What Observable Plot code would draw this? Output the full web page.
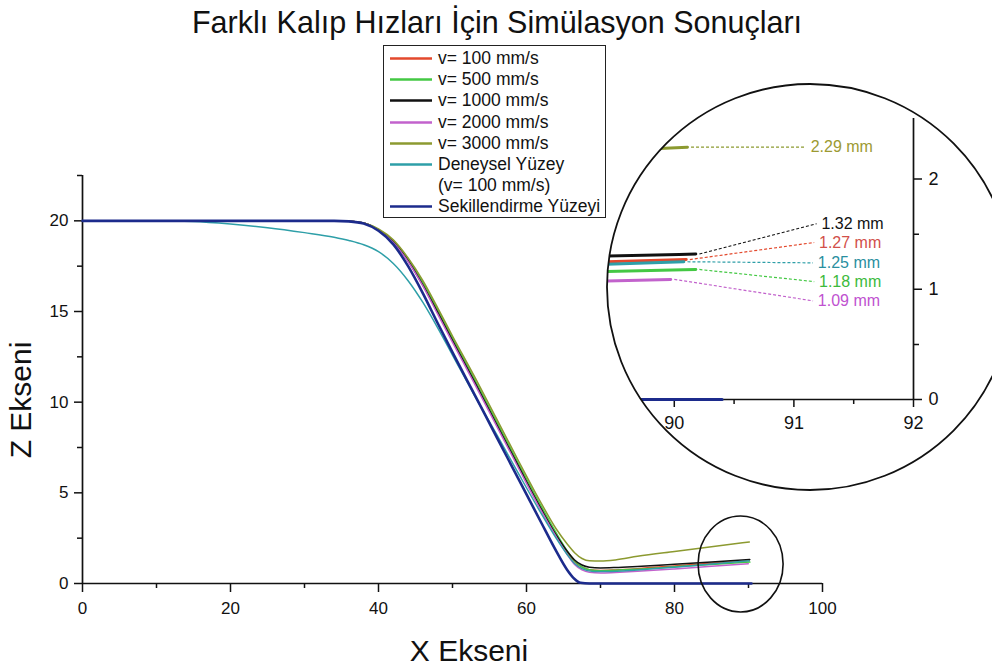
<!DOCTYPE html>
<html>
<head>
<meta charset="utf-8">
<script src="https://cdn.jsdelivr.net/npm/d3@7"></script>
<script src="https://cdn.jsdelivr.net/npm/@observablehq/plot@0.6"></script>
<style>
  html, body { margin: 0; padding: 0; background: #fff; overflow: hidden; }
  #chart { position: relative; width: 992px; height: 670px; font-family: "Liberation Sans", Arial, sans-serif; color: #111; }
  #chart > svg { position: absolute; }
  .title { position: absolute; left: 0; top: 5px; width: 994px; text-align: center; font-size: 30.5px; line-height: 34px; }
  .xlab { position: absolute; left: 369px; top: 634px; width: 200px; text-align: center; font-size: 30px; line-height: 34px; }
  .ylab { position: absolute; left: 21px; top: 400px; font-size: 30px; line-height: 34px; white-space: nowrap; transform: translate(-50%, -50%) rotate(-90deg); }
  .legend { position: absolute; left: 383px; top: 45px; width: 221px; height: 169px; border: 1.5px solid #222; background: #fff; box-sizing: content-box; padding-top: 2px; }
  .legend .row { display: flex; align-items: center; height: 21.2px; font-size: 17.5px; white-space: nowrap; }
  .legend svg { width: 54px; height: 21px; flex: none; }
</style>
</head>
<body>
<div id="chart"></div>
<script>
// Profile series: forming speed runs, the measured surface and the die surface
const seriesNames = ["v= 100 mm/s", "v= 500 mm/s", "v= 1000 mm/s", "v= 2000 mm/s", "v= 3000 mm/s", "Deneysel Yüzey", "Sekillendirme Yüzeyi"];
const seriesColors = ["#e3492d", "#44c844", "#111111", "#c262cc", "#8c9a30", "#2e9fa8", "#1c2b8c"];
const labelColors = ["#d2504a", "#3cba3c", "#111111", "#c052d0", "#9c9a32", "#2a8f9f"];

// simulated profiles, x (mm) and z (mm)
const xSim100 = [0, 34, 36, 38, 40, 42, 44, 46, 48, 50, 53, 56, 59, 62, 64, 65.5, 66.5, 67.5, 68.5, 70, 72, 75, 80, 85, 90.1];
const zSim100 = [20, 20, 19.98, 19.88, 19.5, 18.85, 17.8, 16.45, 14.95, 13.4, 11.1, 8.75, 6.4, 4.1, 2.68, 1.72, 1.2, 0.9, 0.76, 0.72, 0.75, 0.82, 0.97, 1.12, 1.27];

const xSim500 = [0, 34, 36, 38, 40, 42, 44, 46, 48, 50, 53, 56, 59, 62, 64, 65.5, 66.5, 67.5, 68.5, 70, 72, 75, 80, 85, 90.18];
const zSim500 = [20, 20, 19.98, 19.88, 19.52, 18.9, 17.9, 16.6, 15.1, 13.55, 11.25, 8.9, 6.55, 4.25, 2.8, 1.8, 1.25, 0.92, 0.76, 0.71, 0.73, 0.79, 0.92, 1.05, 1.18];

const xSim1000 = [0, 34, 36, 38, 40, 42, 44, 46, 48, 50, 53, 56, 59, 62, 64, 65.5, 66.5, 67.5, 68.5, 70, 72, 75, 80, 85, 90.18];
const zSim1000 = [20, 20, 19.98, 19.88, 19.5, 18.85, 17.8, 16.45, 14.95, 13.4, 11.1, 8.75, 6.4, 4.1, 2.68, 1.78, 1.3, 1.02, 0.9, 0.86, 0.88, 0.94, 1.06, 1.19, 1.32];

const xSim2000 = [0, 34, 36, 38, 40, 42, 44, 46, 48, 50, 53, 56, 59, 62, 64, 65.5, 66.5, 67.5, 68.5, 70, 72, 75, 80, 85, 89.97];
const zSim2000 = [20, 20, 19.98, 19.88, 19.48, 18.8, 17.75, 16.4, 14.85, 13.3, 11.0, 8.65, 6.3, 4.0, 2.58, 1.6, 1.05, 0.75, 0.62, 0.58, 0.61, 0.67, 0.8, 0.95, 1.09];

const xSim3000 = [0, 34, 36, 38, 40, 42, 44, 46, 48, 50, 53, 56, 59, 62, 64, 65.5, 66.5, 67.5, 68.5, 70, 72, 75, 80, 85, 90.11];
const zSim3000 = [20, 20, 19.98, 19.88, 19.55, 18.95, 17.95, 16.7, 15.2, 13.65, 11.4, 9.05, 6.7, 4.42, 3.02, 2.18, 1.7, 1.38, 1.25, 1.24, 1.3, 1.5, 1.77, 2.03, 2.29];

// measured surface (v = 100 mm/s)
const xExp = [0, 10, 15, 20, 25, 30, 34, 36, 38, 40, 42, 44, 46, 48, 50, 53, 56, 59, 62, 64, 65.5, 66.5, 67.5, 69, 71, 75, 80, 85, 90.08];
const zExp = [20, 20, 19.96, 19.82, 19.62, 19.35, 19.1, 18.92, 18.68, 18.3, 17.65, 16.7, 15.5, 14.1, 12.6, 10.35, 8.2, 6.0, 3.85, 2.5, 1.6, 1.1, 0.82, 0.66, 0.66, 0.75, 0.9, 1.07, 1.25];

// die (forming) surface
const xDie = [0, 34, 36, 38, 40, 42, 44, 46, 48, 50, 53, 56, 59, 62, 64, 65.5, 66.5, 67.3, 68.5, 90.4];
const zDie = [20, 20, 19.97, 19.85, 19.45, 18.7, 17.5, 16.0, 14.35, 12.75, 10.4, 8.05, 5.7, 3.35, 1.8, 0.75, 0.25, 0.04, 0, 0];

// axis ticks
const xMajorTicks = [0, 20, 40, 60, 80, 100];
const xMinorTicks = [10, 30, 50, 70, 90];
const yMajorTicks = [0, 5, 10, 15, 20];
const yMinorTicks = [2.5, 7.5, 12.5, 17.5, 22.5];
const insetXMajor = [90, 91, 92];
const insetXMinor = [90.5, 91.5];
const insetYMajor = [0, 1, 2];
const insetYMinor = [0.5, 1.5];

const xs = [xSim100, xSim500, xSim1000, xSim2000, xSim3000, xExp, xDie];
const zs = [zSim100, zSim500, zSim1000, zSim2000, zSim3000, zExp, zDie];
const widths = [1.5, 1.5, 1.5, 1.5, 1.5, 1.5, 2.6];

const rows = xs.map((xa, i) => xa.map((x, j) => ({series: seriesNames[i], x, z: zs[i][j]})));

const font = "'Liberation Sans', Arial, sans-serif";
const intFmt = d3.format("d");
const chart = document.getElementById("chart");

// ---------- main profile chart ----------
const ellipseMark = (index, {x, y}) => {
  const g = d3.create("svg:g");
  g.append("ellipse")
    .attr("cx", x(89.0)).attr("cy", y(1.05))
    .attr("rx", 42.5).attr("ry", 48)
    .attr("fill", "none").attr("stroke", "#111").attr("stroke-width", 1.6);
  return g.node();
};

const main = Plot.plot({
  width: 992, height: 670,
  marginLeft: 82, marginRight: 170, marginTop: 175, marginBottom: 87,
  x: {domain: [0, 100]},
  y: {domain: [0, 22.5]},
  style: {fontFamily: font, fontSize: "17px", color: "#111", background: "white"},
  marks: [
    Plot.axisX(xMajorTicks, {tickSize: 9, tickPadding: 9, label: null, strokeWidth: 1.5, fontSize: 17, tickFormat: intFmt}),
    Plot.axisX(xMinorTicks, {tickSize: 5, tickFormat: () => "", label: null, strokeWidth: 1.5}),
    Plot.axisY(yMajorTicks, {tickSize: 8, tickPadding: 6, label: null, strokeWidth: 1.5, fontSize: 17, tickFormat: intFmt}),
    Plot.axisY(yMinorTicks, {tickSize: 5, tickFormat: () => "", label: null, strokeWidth: 1.5}),
    Plot.ruleY([0], {stroke: "#111", strokeWidth: 1.7}),
    Plot.ruleX([0], {stroke: "#111", strokeWidth: 1.7}),
    ...rows.map((r, i) => Plot.line(r, {x: "x", y: "z", stroke: seriesColors[i], strokeWidth: widths[i], curve: "monotone-x"})),
    ellipseMark
  ]
});
chart.appendChild(main);
main.style.left = "0px";
main.style.top = "0px";

// ---------- magnified end region ----------
const endIdx = [0, 1, 2, 3, 4, 5];
const labelZ = [1.425, 1.07, 1.595, 0.895, 2.29, 1.24];
const leaderEndX = [91.17, 91.17, 91.19, 91.16, 91.1, 91.16];
const leaders = endIdx.map(i => {
  const xa = xs[i], za = zs[i];
  const v = za[za.length - 1];
  return {
    x1: xa[xa.length - 1] + 0.03, y1: v,
    x2: leaderEndX[i], y2: labelZ[i],
    lx: leaderEndX[i] + 0.04,
    text: `${v.toFixed(2)} mm`,
    color: labelColors[i], lineColor: seriesColors[i]
  };
});

const insetRows = rows.map(r => r.filter(d => d.x >= 65));
const inset = Plot.plot({
  width: 392, height: 420,
  marginLeft: 8, marginRight: 79, marginTop: 38, marginBottom: 101,
  x: {domain: [89.45, 92]},
  y: {domain: [0, 2.55]},
  style: {fontFamily: font, fontSize: "18px", color: "#111", background: "none", overflow: "visible"},
  marks: [
    Plot.axisX(insetXMajor, {tickSize: 8, tickPadding: 9, label: null, strokeWidth: 1.5, fontSize: 18, tickFormat: intFmt}),
    Plot.axisX(insetXMinor, {tickSize: 5, tickFormat: () => "", label: null, strokeWidth: 1.5}),
    Plot.axisY(insetYMajor, {anchor: "right", tickSize: 8, tickPadding: 7, label: null, strokeWidth: 1.5, fontSize: 18, tickFormat: intFmt}),
    Plot.axisY(insetYMinor, {anchor: "right", tickSize: 5, tickFormat: () => "", label: null, strokeWidth: 1.5}),
    Plot.ruleY([0], {stroke: "#111", strokeWidth: 1.7}),
    Plot.ruleX([92], {stroke: "#111", strokeWidth: 1.7}),
    ...insetRows.map((r, i) => Plot.line(r, {x: "x", y: "z", stroke: seriesColors[i], strokeWidth: 3, curve: "monotone-x"})),
    Plot.link(leaders, {x1: "x1", y1: "y1", x2: "x2", y2: "y2", stroke: "lineColor", strokeWidth: 1.2, strokeDasharray: "3,2"}),
    Plot.text(leaders, {x: "lx", y: "y2", text: "text", fill: "color", textAnchor: "start", fontSize: 16})
  ]
});
chart.appendChild(inset);
inset.style.left = "600px";
inset.style.top = "80px";

// clip the magnified view to its lens
{
  const svg = d3.select(inset);
  const cx = 210, cy = 207, r = 203;
  const id = "lens-clip";
  svg.insert("defs", ":first-child").append("clipPath").attr("id", id)
    .append("circle").attr("cx", cx).attr("cy", cy).attr("r", r);
  const content = svg.selectAll(":scope > g").nodes();
  svg.append("circle").attr("cx", cx).attr("cy", cy).attr("r", r).attr("fill", "#fff");
  const holder = svg.append("g").attr("clip-path", `url(#${id})`);
  content.forEach(n => holder.node().appendChild(n));
  svg.append("circle").attr("cx", cx).attr("cy", cy).attr("r", r)
    .attr("fill", "none").attr("stroke", "#111").attr("stroke-width", 1.8);
}

// ---------- texts ----------
const title = document.createElement("div");
title.className = "title";
title.textContent = "Farklı Kalıp Hızları İçin Simülasyon Sonuçları";
chart.appendChild(title);

const xl = document.createElement("div");
xl.className = "xlab";
xl.textContent = "X Ekseni";
chart.appendChild(xl);

const yl = document.createElement("div");
yl.className = "ylab";
yl.textContent = "Z Ekseni";
chart.appendChild(yl);

// ---------- legend ----------
const legend = document.createElement("div");
legend.className = "legend";
const legendRows = [];
seriesNames.forEach((name, i) => {
  legendRows.push({text: name, color: seriesColors[i]});
  if (name === "Deneysel Yüzey") legendRows.push({text: "(v= 100 mm/s)", color: null});
});
legendRows.forEach(d => {
  const row = document.createElement("div");
  row.className = "row";
  const sw = d3.create("svg").attr("width", 54).attr("height", 21);
  if (d.color) sw.append("line").attr("x1", 6).attr("x2", 48).attr("y1", 10.5).attr("y2", 10.5)
    .attr("stroke", d.color).attr("stroke-width", 2.6);
  row.appendChild(sw.node());
  const t = document.createElement("span");
  t.textContent = d.text;
  row.appendChild(t);
  legend.appendChild(row);
});
chart.appendChild(legend);
</script>
</body>
</html>
